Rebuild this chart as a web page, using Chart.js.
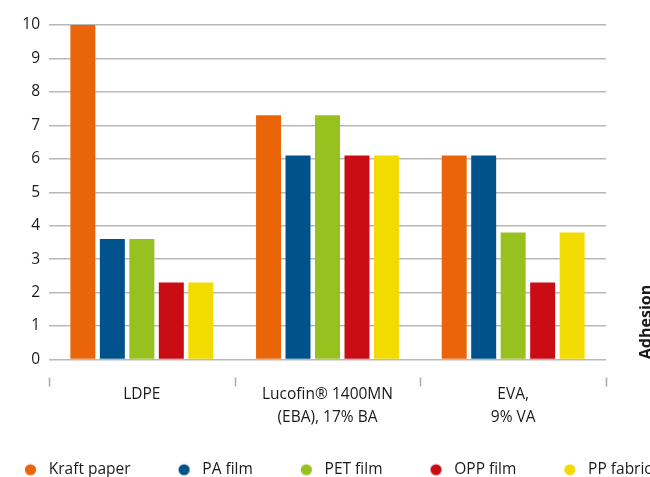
<!DOCTYPE html>
<html>
<head>
<meta charset="utf-8">
<script src="https://cdn.jsdelivr.net/npm/chart.js@4"></script>
<style>
  html, body { margin: 0; padding: 0; overflow: hidden; background: #fff; width: 650px; height: 477px; }
  #wrap { position: absolute; left: -23px; top: 0; width: 760px; height: 500px; }
</style>
</head>
<body>
<div id="wrap"><canvas id="c" width="760" height="500" style="width:760px;height:500px"></canvas></div>
<script>
// ---- data ----
const categories = ['LDPE', ['Lucofin® 1400MN', '(EBA), 17% BA'], ['EVA,', '9% VA']];
const seriesNames = ['Kraft paper', 'PA film', 'PET film', 'OPP film', 'PP fabric'];
const kraftPaper = [10, 7.3, 6.1];
const paFilm     = [3.6, 6.1, 6.1];
const petFilm    = [3.6, 7.3, 3.8];
const oppFilm    = [2.3, 6.1, 2.3];
const ppFabric   = [2.3, 6.1, 3.8];
const yMin = 0, yMax = 10, yStep = 1;
const yAxisTitle = 'Adhesion';

// ---- style ----
const colors = ['#EA650A', '#00538A', '#96C11F', '#CA0C15', '#F2DB00'];
const seriesValues = [kraftPaper, paFilm, petFilm, oppFilm, ppFabric];
const FONT = "'Open Sans', 'DejaVu Sans', sans-serif";
const FS = 15.5;
const TEXT = '#1a1a1a';
const GRID = '#b8b8b8';

const BOXW = 54, CIRC_X = 43.5, RAD = 5.6;
function makeDot(color) {
  const cv = document.createElement('canvas');
  cv.width = BOXW; cv.height = 14;
  const g = cv.getContext('2d');
  g.fillStyle = color;
  g.beginPath(); g.arc(CIRC_X, 7, RAD, 0, Math.PI * 2); g.fill();
  return cv;
}
const dots = colors.map(makeDot);

const boundaryTicks = {
  id: 'boundaryTicks',
  afterDraw(chart) {
    const ctx = chart.ctx;
    const xs = chart.scales.x;
    const step = xs.getPixelForValue(1) - xs.getPixelForValue(0);
    const y0 = chart.chartArea.bottom + 18, y1 = chart.chartArea.bottom + 27;
    ctx.save();
    ctx.strokeStyle = '#aaaaaa';
    ctx.lineWidth = 1.5;
    for (let i = 0; i <= categories.length; i++) {
      const px = Math.round(xs.getPixelForValue(i) - step / 2) + 0.5;
      ctx.beginPath(); ctx.moveTo(px, y0); ctx.lineTo(px, y1); ctx.stroke();
    }
    // rotated axis title on the right
    ctx.fillStyle = TEXT;
    ctx.font = "bold 16px " + FONT;
    ctx.translate(674, 322);
    ctx.rotate(-Math.PI / 2);
    ctx.textAlign = 'center';
    ctx.textBaseline = 'alphabetic';
    ctx.fillText(yAxisTitle, 0, 0);
    ctx.restore();
  }
};

new Chart(document.getElementById('c'), {
  type: 'bar',
  data: {
    labels: categories,
    datasets: seriesNames.map((n, i) => ({
      label: n,
      data: seriesValues[i],
      backgroundColor: colors[i],
      borderWidth: 0,
      categoryPercentage: 0.794,
      barPercentage: 0.847
    }))
  },
  options: {
    responsive: false,
    animation: false,
    layout: { padding: { top: 25, bottom: 12.5, left: 0, right: 0 } },
    plugins: {
      tooltip: { enabled: false },
      legend: {
        position: 'bottom',
        align: 'start',
        labels: {
          usePointStyle: true,
          pointStyleWidth: BOXW,
          boxHeight: 14,
          padding: 10,
          color: TEXT,
          font: { family: FONT, size: FS },
          generateLabels(chart) {
            const items = Chart.defaults.plugins.legend.labels.generateLabels(chart);
            items.forEach((it, i) => { it.pointStyle = dots[i]; });
            return items;
          }
        }
      }
    },
    scales: {
      x: {
        grid: { display: false },
        border: { display: false },
        ticks: { color: TEXT, font: { family: FONT, size: FS, lineHeight: 1.5 }, padding: 15, maxRotation: 0, autoSkip: false },
        afterFit(s) { s.height = 92.5; }
      },
      y: {
        min: yMin, max: yMax,
        ticks: { stepSize: yStep, color: TEXT, font: { family: FONT, size: FS }, padding: 9 },
        grid: { color: GRID, lineWidth: 1.5, drawTicks: false },
        border: { display: false },
        afterFit(s) { s.width = 72; }
      },
      yR: {
        position: 'right',
        type: 'linear',
        display: true,
        grid: { display: false },
        border: { display: false },
        ticks: { display: false },
        afterFit(s) { s.width = 131; }
      }
    }
  },
  plugins: [boundaryTicks]
});
</script>
</body>
</html>
